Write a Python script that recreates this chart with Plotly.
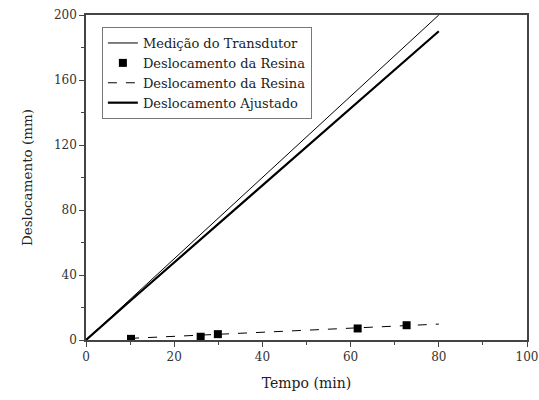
import plotly.graph_objects as go

# Data
transdutor_x = [0, 80]
transdutor_y = [0, 200]
resina_x = [10.2, 26, 29.9, 61.6, 72.7]
resina_y = [0.7, 2.0, 3.6, 7.1, 9.1]
resina_fit_x = [10, 80]
resina_fit_y = [1.0, 9.8]
ajustado_x = [0, 10, 80]
ajustado_y = [0, 24, 190]

FONT = "DejaVu Serif, serif"

fig = go.Figure()
fig.add_trace(go.Scatter(x=transdutor_x, y=transdutor_y, mode="lines",
                         line=dict(color="black", width=1), name="Medição do Transdutor"))
fig.add_trace(go.Scatter(x=resina_x, y=resina_y, mode="markers",
                         marker=dict(symbol="square", color="black", size=8),
                         name="Deslocamento da Resina"))
fig.add_trace(go.Scatter(x=resina_fit_x, y=resina_fit_y, mode="lines",
                         line=dict(color="black", width=1, dash="dash"),
                         name="Deslocamento da Resina"))
fig.add_trace(go.Scatter(x=ajustado_x, y=ajustado_y, mode="lines",
                         line=dict(color="black", width=2.2), name="Deslocamento Ajustado"))

axis_common = dict(
    showgrid=False, zeroline=False, showline=True, mirror=True, automargin=False,
    linecolor="#444", linewidth=1.5, ticks="outside", ticklen=5,
    tickcolor="#444", tickwidth=1.2,
    tickfont=dict(family=FONT, size=12, color="#333"),
)

fig.update_layout(
    width=539, height=400,
    margin=dict(l=86, r=12, t=15, b=60),
    plot_bgcolor="white", paper_bgcolor="white",
    font=dict(family=FONT, color="#222"),
    xaxis=dict(range=[0, 100], tickvals=[0, 20, 40, 60, 80, 100],
               minor=dict(tickvals=[10, 30, 50, 70, 90], ticks="outside", ticklen=3,
                          tickcolor="#444", tickwidth=1),
               title=dict(text="Tempo (min)", font=dict(family=FONT, size=14), standoff=15),
               **axis_common),
    yaxis=dict(range=[0, 200], tickvals=[0, 40, 80, 120, 160, 200],
               minor=dict(tickvals=[20, 60, 100, 140, 180], ticks="outside", ticklen=3,
                          tickcolor="#444", tickwidth=1),
               title=dict(text="Deslocamento (mm)", font=dict(family=FONT, size=13.5), standoff=18),
               **axis_common),
    legend=dict(x=0.036, y=0.963, xanchor="left", yanchor="top",
                bgcolor="white", bordercolor="#777", borderwidth=1,
                font=dict(family=FONT, size=13, color="#222"),
                tracegroupgap=0, itemwidth=30),
    showlegend=True,
)

fig.write_html("out.html")
